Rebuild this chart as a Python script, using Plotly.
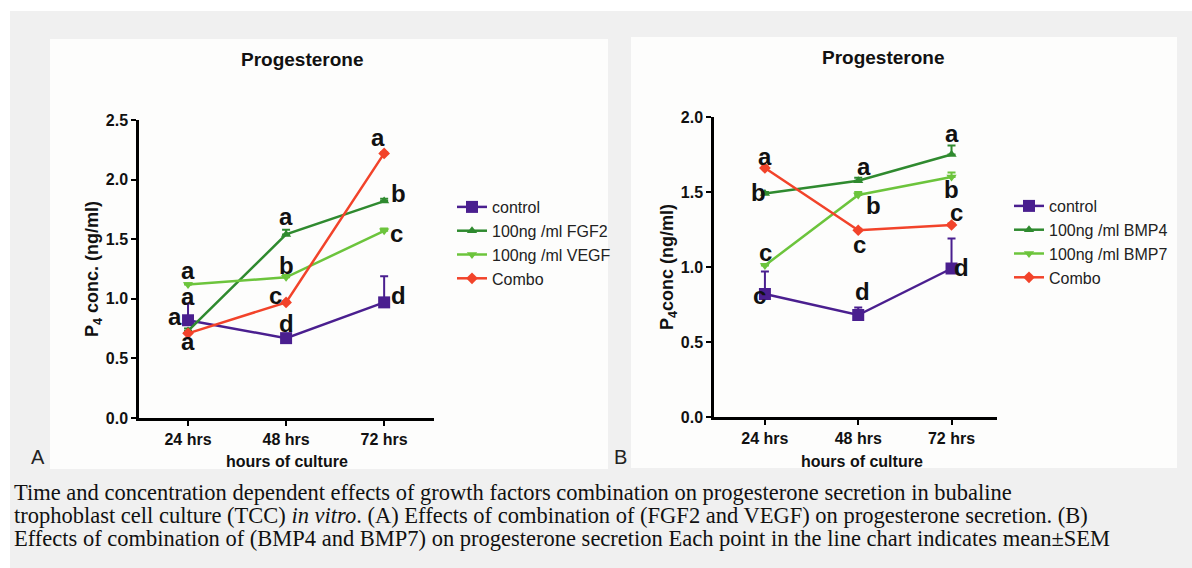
import plotly.graph_objects as go

W, H = 1192, 568

# ---- data ----
hours = [24, 48, 72]
hour_labels = ["24 hrs", "48 hrs", "72 hrs"]

# Panel A: FGF2 / VEGF
a_names = ["control", "100ng /ml FGF2", "100ng /ml VEGF", "Combo"]
a_control = [0.82, 0.67, 0.97]
a_fgf2 = [0.73, 1.54, 1.82]
a_vegf = [1.12, 1.18, 1.57]
a_combo = [0.71, 0.97, 2.22]
a_control_sem = [0.14, 0.02, 0.22]
a_fgf2_sem = [0.02, 0.04, 0.02]
a_vegf_sem = [0.01, 0.02, 0.02]
a_combo_sem = [0.01, 0.01, 0.01]

# Panel B: BMP4 / BMP7
b_names = ["control", "100ng /ml BMP4", "100ng /ml BMP7", "Combo"]
b_control = [0.82, 0.68, 0.99]
b_bmp4 = [1.49, 1.575, 1.75]
b_bmp7 = [1.01, 1.48, 1.60]
b_combo = [1.66, 1.245, 1.28]
b_control_sem = [0.15, 0.05, 0.20]
b_bmp4_sem = [0.01, 0.02, 0.06]
b_bmp7_sem = [0.01, 0.02, 0.03]
b_combo_sem = [0.01, 0.01, 0.01]

# significance letters: (hours position, y, letter)
a_letters = [
    (24, 1.24, "a"), (24, 1.02, "a"), (20.8, 0.85, "a"), (24, 0.64, "a"),
    (48, 1.69, "a"), (48, 1.28, "b"), (45.3, 1.03, "c"), (48, 0.79, "d"),
    (70.5, 2.35, "a"), (75.4, 1.885, "b"), (75.0, 1.55, "c"), (75.4, 1.03, "d"),
]
b_letters = [
    (24, 1.735, "a"), (22.3, 1.50, "b"), (24.1, 1.10, "c"), (22.6, 0.81, "c"),
    (49.5, 1.67, "a"), (52.0, 1.41, "b"), (48.3, 1.147, "c"), (49.0, 0.835, "d"),
    (72, 1.89, "a"), (72, 1.52, "b"), (73.3, 1.365, "c"), (74.5, 1.00, "d"),
]

colors = ["#4a1f8f", "#2f8a2f", "#6cc43c", "#f2432a"]
symbols = ["square", "triangle-up", "triangle-down", "diamond"]
sizes = [12, 9, 9, 9]

SANS = "Liberation Sans, Arial, sans-serif"
SERIF = "Liberation Serif, Times New Roman, serif"


def px(x):
    return x / W


def py(y):
    return 1 - y / H


fig = go.Figure()

panels = [
    ("x", "y", "legend", a_names,
     [a_control, a_fgf2, a_vegf, a_combo],
     [a_control_sem, a_fgf2_sem, a_vegf_sem, a_combo_sem]),
    ("x2", "y2", "legend2", b_names,
     [b_control, b_bmp4, b_bmp7, b_combo],
     [b_control_sem, b_bmp4_sem, b_bmp7_sem, b_combo_sem]),
]

for xa, ya, leg, names, series, sems in panels:
    for i, (name, vals, sem) in enumerate(zip(names, series, sems)):
        fig.add_trace(go.Scatter(
            x=hours, y=vals, name=name, xaxis=xa, yaxis=ya, legend=leg,
            mode="lines+markers",
            line=dict(color=colors[i], width=2.5),
            marker=dict(symbol=symbols[i], size=sizes[i], color=colors[i]),
            error_y=dict(type="data", symmetric=False, array=sem,
                         arrayminus=[0] * len(sem), color=colors[i],
                         thickness=2, width=4),
        ))

axis_common = dict(
    showline=True, linewidth=2.5, linecolor="black", mirror=False,
    ticks="outside", ticklen=5, tickwidth=2, tickcolor="black",
    showgrid=False, zeroline=False, automargin=False,
    tickfont=dict(family=SANS, size=16, color="#111", weight="bold"),
)
ytitle_font = dict(family=SANS, size=18, color="#111", weight="bold")

fig.update_layout(
    width=W, height=H, autosize=False,
    margin=dict(l=0, r=0, t=0, b=0, pad=0),
    paper_bgcolor="white", plot_bgcolor="rgba(0,0,0,0)",
    showlegend=True,
    xaxis=dict(axis_common, domain=[px(139), px(434)], range=[12, 84.2],
               tickvals=hours, ticktext=hour_labels, anchor="y"),
    yaxis=dict(axis_common, domain=[py(418), py(120)], range=[0, 2.5],
               dtick=0.5, tickformat=".1f", anchor="x",
               title=dict(text="P<sub>4</sub> conc. (ng/ml)", standoff=3,
                          font=ytitle_font)),
    xaxis2=dict(axis_common, domain=[px(714), px(997)], range=[10.9, 83.7],
                tickvals=hours, ticktext=hour_labels, anchor="y2"),
    yaxis2=dict(axis_common, domain=[py(417), py(117)], range=[0, 2.0],
                dtick=0.5, tickformat=".1f", anchor="x2",
                title=dict(text="P<sub>4</sub>conc (ng/ml)", standoff=3,
                           font=ytitle_font)),
    legend=dict(x=px(452), y=py(190), xanchor="left", yanchor="top",
                bgcolor="rgba(0,0,0,0)",
                font=dict(family=SANS, size=16, color="#222")),
    legend2=dict(x=px(1009), y=py(189), xanchor="left", yanchor="top",
                 bgcolor="rgba(0,0,0,0)",
                 font=dict(family=SANS, size=16, color="#222")),
)

# page background and the two white figure panels
fig.add_shape(type="rect", xref="paper", yref="paper", layer="below",
              x0=px(10), x1=1, y0=0, y1=py(11),
              fillcolor="#f0f0f0", line=dict(width=0))
fig.add_shape(type="rect", xref="paper", yref="paper", layer="below",
              x0=px(50), x1=px(608), y0=py(469), y1=py(39),
              fillcolor="#fdfdfc", line=dict(width=0))
fig.add_shape(type="rect", xref="paper", yref="paper", layer="below",
              x0=px(631), x1=px(1177), y0=py(468), y1=py(37),
              fillcolor="#fdfdfc", line=dict(width=0))

ann = []
# significance letters
for xref, yref, letters in [("x", "y", a_letters), ("x2", "y2", b_letters)]:
    for xv, yv, t in letters:
        ann.append(dict(x=xv, y=yv, xref=xref, yref=yref, text=t,
                        showarrow=False, xanchor="center", yanchor="middle",
                        font=dict(family=SANS, size=24, color="#111",
                                  weight="bold")))


def label(cx, cy, text, font, xanchor="center"):
    ann.append(dict(x=px(cx), y=py(cy), xref="paper", yref="paper",
                    text=text, showarrow=False,
                    xanchor=xanchor, yanchor="middle", font=font))


# panel titles, x-axis titles and panel letters
title_font = dict(family=SANS, size=19, color="#111", weight="bold")
label(302, 60, "Progesterone", title_font)
label(883, 58, "Progesterone", title_font)
xtitle_font = dict(family=SANS, size=16, color="#111", weight="bold")
label(287, 461, "hours of culture", xtitle_font)
label(862, 461, "hours of culture", xtitle_font)
panel_font = dict(family=SANS, size=20, color="#222")
label(38, 457, "A", panel_font)
label(620, 457, "B", panel_font)

# caption
caption = [
    "Time and concentration dependent effects of growth factors combination on progesterone secretion in bubaline",
    "trophoblast cell culture (TCC) <i>in vitro</i>. (A) Effects of combination of (FGF2 and VEGF) on progesterone secretion. (B)",
    "Effects of combination of (BMP4 and BMP7) on progesterone secretion Each point in the line chart indicates mean±SEM",
]
cap_font = dict(family=SERIF, size=22.5, color="#111")
for k, line in enumerate(caption):
    label(12, 492 + 23 * k, line, cap_font, xanchor="left")

fig.update_layout(annotations=ann)

fig.write_html("out.html")
